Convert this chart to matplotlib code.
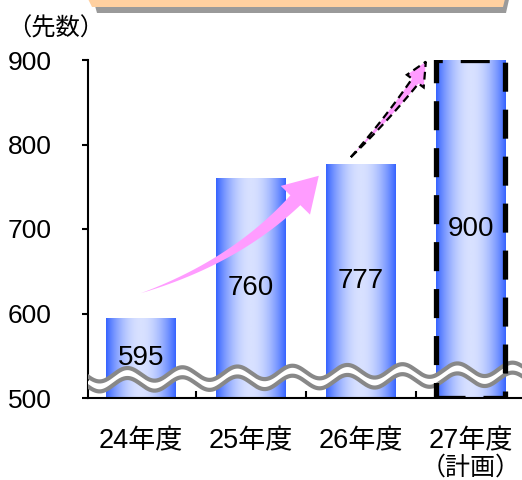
import numpy as np
import matplotlib.pyplot as plt
from matplotlib.patches import Polygon
from matplotlib.transforms import Affine2D, IdentityTransform
from matplotlib.colors import LinearSegmentedColormap

# data
years = ['24年度', '25年度', '26年度', '27年度']
counts = [595, 760, 777, 900]
y_ticks = [500, 600, 700, 800, 900]
base = 500

W, H = 522, 480
LATIN = 'Liberation Sans'
JP = ['Liberation Sans', 'Noto Sans CJK JP']

fig = plt.figure(figsize=(W / 100, H / 100), dpi=100)
ax = fig.add_axes([88 / W, 82 / H, 1 - 88 / W, 338 / H])
ax.set_xlim(-0.48, 3.465)
ax.set_ylim(base, 900)

# banner at the top (cropped)
px = Affine2D().scale(1, -1).translate(0, H)
fig.patches.append(Polygon([(92, -5), (510, -5), (506, 13), (97, 13)],
                           closed=True, fc='#9a9a9a', ec='none', transform=px))
fig.patches.append(Polygon([(86, -5), (506, -5), (503, 7), (92, 7)],
                           closed=True, fc='#ffd0a0', ec='none', transform=px))
fig.text(7 / W, 1 - 28 / H, '（先数）', family=['Noto Sans CJK JP'], fontsize=17.5,
         va='center', ha='left')

# bars with a horizontal blue gradient
x = np.arange(len(years))
bars = ax.bar(x, np.array(counts) - base, bottom=base, width=0.63,
              color='none', edgecolor='none', zorder=2)
t = np.linspace(0, 1, 200)
grad = (np.sin(np.pi * t) ** 0.9)[None, :]
cmap = LinearSegmentedColormap.from_list('bl', ['#3563ff', '#d8e1ff'])
for r in bars:
    x0, y0 = r.get_x(), r.get_y()
    im = ax.imshow(grad, cmap=cmap, vmin=0, vmax=1, aspect='auto',
                   extent=(x0, x0 + r.get_width(), y0, y0 + r.get_height()),
                   zorder=2, interpolation='bilinear')
    im.set_clip_path(r)
last = bars[-1]
last.set_edgecolor('black')
last.set_linewidth(3.8)
last.set_linestyle((0, (5.5, 3.4)))
last.set_zorder(4)

ax.bar_label(bars, labels=[str(v) for v in counts], label_type='center',
             fontsize=20, family=LATIN, zorder=6)


# tapered curved arrows (pink)
def arrow(p0, p1, p2, tip, neck_w, head_w, dashed=False):
    T = ax.transData
    P0, P1, P2, TP = (T.transform(p) for p in (p0, p1, p2, tip))
    s = np.linspace(0, 1, 60)[:, None]
    c = (1 - s) ** 2 * P0 + 2 * (1 - s) * s * P1 + s ** 2 * P2
    d = 2 * (1 - s) * (P1 - P0) + 2 * s * (P2 - P1)
    d = d / np.linalg.norm(d, axis=1)[:, None]
    n = np.column_stack([-d[:, 1], d[:, 0]])
    w = neck_w * s / 2
    left = c + n * w
    right = c - n * w
    nn = n[-1]
    head = [P2 + nn * head_w / 2, TP, P2 - nn * head_w / 2]
    pts = np.vstack([left, head, right[::-1]])
    if dashed:
        poly = Polygon(pts, closed=True, fc='#ff9cff', ec='black', lw=1.6,
                       ls=(0, (3.5, 2.2)), transform=IdentityTransform(), zorder=5)
    else:
        poly = Polygon(pts, closed=True, fc='#ff9cff', ec='none',
                       transform=IdentityTransform(), zorder=5)
    fig.patches.append(poly)


arrow((0.0, 624), (0.855, 661), (1.405, 734), (1.618, 763), 14, 41)
arrow((1.909, 785), (2.218, 827), (2.495, 875), (2.591, 898), 8, 21, dashed=True)

# axis break waves
xs = np.linspace(-0.48, 3.465, 800)
mid = 527.8 + 1.82 * (xs - (130 - 141) / 110) - 7.7 * np.cos(2 * np.pi * (xs - 0.127) / 0.5)
ax.plot(xs, mid - 5.9, color='white', lw=7.5, zorder=3, solid_capstyle='butt')
ax.plot(xs, mid, color='#888888', lw=3, zorder=3)
ax.plot(xs, mid - 11.8, color='#888888', lw=3, zorder=3)

# axes styling
for s in ['top', 'right']:
    ax.spines[s].set_visible(False)
for s in ['left', 'bottom']:
    ax.spines[s].set_linewidth(1.5)
ax.set_yticks(y_ticks)
ax.set_yticklabels([str(v) for v in y_ticks], family=LATIN, fontsize=19)
ax.tick_params(axis='y', direction='out', length=4, width=1.5, pad=22)
ax.set_xticks(x)
ax.set_xticklabels(years, family=JP, fontsize=19.5)
ax.tick_params(axis='x', which='major', length=0, pad=22)
ax.set_xticks(x[:-1] + 0.5, minor=True)
ax.tick_params(axis='x', which='minor', direction='in', length=5, width=1.5)
ax.text(x[-1], -0.205, '（計画）', transform=ax.get_xaxis_transform(),
        family=['Noto Sans CJK JP'], fontsize=18, ha='center', va='center')

fig.savefig('out.png', dpi=100)
